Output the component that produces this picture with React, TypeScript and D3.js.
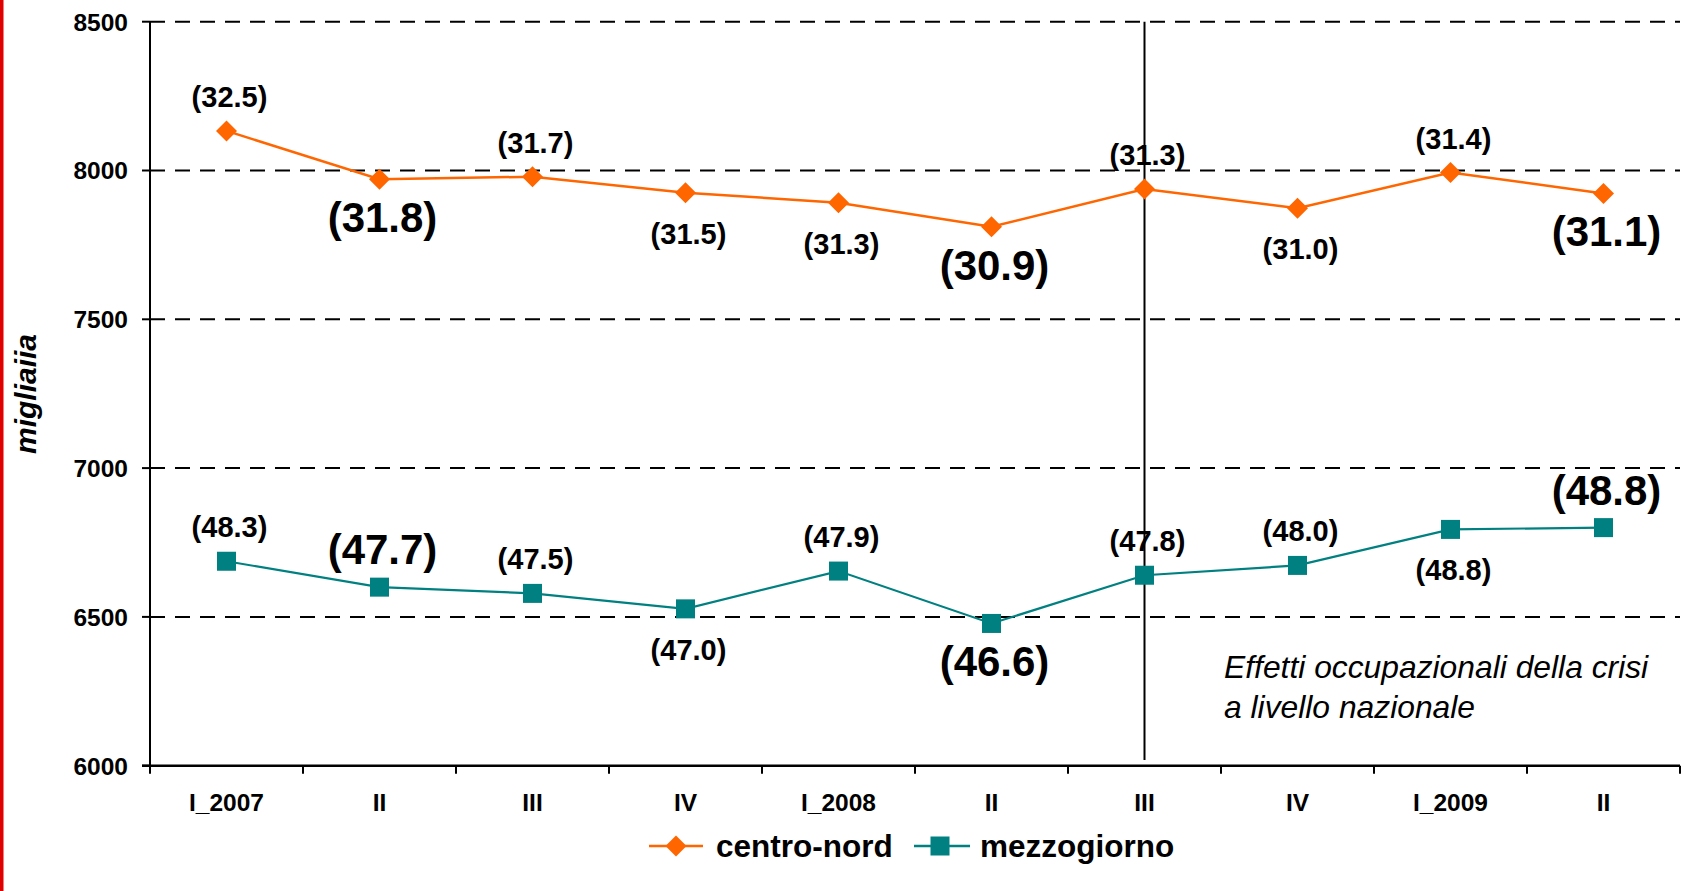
import * as d3 from 'd3'

const categories = ['I_2007', 'II', 'III', 'IV', 'I_2008', 'II ', 'III ', 'IV ', 'I_2009', 'II  ']
const centroNord = [8133, 7971, 7979, 7925, 7892, 7811, 7938, 7873, 7993, 7923]
const mezzogiorno = [6687, 6600, 6579, 6527, 6654, 6478, 6640, 6673, 6794, 6800]
const centroNordLabels = ['(32.5)', '(31.8)', '(31.7)', '(31.5)', '(31.3)', '(30.9)', '(31.3)', '(31.0)', '(31.4)', '(31.1)']
const mezzogiornoLabels = ['(48.3)', '(47.7)', '(47.5)', '(47.0)', '(47.9)', '(46.6)', '(47.8)', '(48.0)', '(48.8)', '(48.8)']
// label placement: 'a' = above, 'b' = below; upper case = large label
const centroNordPlace = ['a', 'B', 'a', 'b', 'b', 'B', 'a', 'b', 'a', 'B']
const mezzogiornoPlace = ['a', 'A', 'a', 'b', 'a', 'B', 'a', 'a', 'b', 'A']
const yTicks = [6000, 6500, 7000, 7500, 8000, 8500]
const gridTicks = [6500, 7000, 7500, 8000, 8500]
const crisisIndex = 6

const W = 1684
const H = 891
const FONT = '"Liberation Sans", Arial, Helvetica, sans-serif'
const ORANGE = '#ff6600'
const TEAL = '#008080'

const App = () => {
  const x = d3.scaleBand<number>()
    .domain(d3.range(categories.length))
    .range([150, 1680])
  const y = d3.scaleLinear().domain([6000, 8500]).range([765.7, 21.7])
  const cx = (i: number) => x(i)! + x.bandwidth() / 2

  const line = d3.line<number>()
    .x((_, i) => cx(i))
    .y(d => y(d))

  const labelY = (v: number, p: string) => {
    if (p === 'a') return y(v) - 24
    if (p === 'b') return y(v) + 51
    if (p === 'A') return y(v) - 23
    return y(v) + 53
  }

  const diamond = (px: number, py: number, r: number) =>
    `M${px},${py - r}L${px + r},${py}L${px},${py + r}L${px - r},${py}Z`

  const renderLabels = (vals: number[], labels: string[], place: string[]) =>
    vals.map((v, i) => (
      <text
        key={i}
        x={cx(i) + 3}
        y={labelY(v, place[i])}
        textAnchor="middle"
        fontWeight="bold"
        fontSize={place[i] === place[i].toUpperCase() ? 42 : 29}
        fill="#000"
      >
        {labels[i]}
      </text>
    ))

  return (
    <div style={{ position: 'absolute', left: 0, top: 0, background: '#fff' }}>
      <svg width={W} height={H} fontFamily={FONT} style={{ display: 'block' }}>
        <rect x={0} y={0} width={W} height={H} fill="#fff" />
        <rect x={0} y={0} width={3.5} height={H} fill="#e00000" />

        {/* dashed gridlines */}
        {gridTicks.map(t => (
          <line key={t} x1={150} x2={1680} y1={y(t)} y2={y(t)}
            stroke="#000" strokeWidth={2} strokeDasharray="15,10" />
        ))}

        {/* y axis */}
        <line x1={150} x2={150} y1={y(8500)} y2={y(6000)} stroke="#000" strokeWidth={2} />
        {yTicks.map(t => (
          <g key={t}>
            <line x1={142} x2={150} y1={y(t)} y2={y(t)} stroke="#000" strokeWidth={2} />
            <text x={128} y={y(t)} dy="0.36em" textAnchor="end" fontWeight="bold" fontSize={24.5}>{t}</text>
          </g>
        ))}
        <text transform={`translate(36,394) rotate(-90)`} textAnchor="middle"
          fontWeight="bold" fontStyle="italic" fontSize={30}>migliaiia</text>

        {/* x axis */}
        <line x1={142} x2={1680} y1={y(6000)} y2={y(6000)} stroke="#000" strokeWidth={2.5} />
        {d3.range(categories.length + 1).map(i => {
          const tx = i < categories.length ? x(i)! : x(categories.length - 1)! + x.bandwidth()
          return <line key={i} x1={tx} x2={tx} y1={y(6000)} y2={y(6000) + 8} stroke="#000" strokeWidth={2} />
        })}
        {categories.map((c, i) => (
          <text key={i} x={cx(i)} y={811} textAnchor="middle" fontWeight="bold" fontSize={24.5}>{c.trim()}</text>
        ))}

        {/* crisis divider */}
        <line x1={cx(crisisIndex)} x2={cx(crisisIndex)} y1={y(8500)} y2={760} stroke="#000" strokeWidth={2} />
        <text x={1224} y={678} fontStyle="italic" fontSize={31.8}>Effetti occupazionali della crisi</text>
        <text x={1224} y={718} fontStyle="italic" fontSize={31.8}>a livello nazionale</text>

        {/* series */}
        <path d={line(centroNord)!} fill="none" stroke={ORANGE} strokeWidth={2.5} />
        <path d={line(mezzogiorno)!} fill="none" stroke={TEAL} strokeWidth={2.2} />
        {centroNord.map((v, i) => (
          <path key={i} d={diamond(cx(i), y(v), 10.5)} fill={ORANGE} />
        ))}
        {mezzogiorno.map((v, i) => (
          <rect key={i} x={cx(i) - 9.5} y={y(v) - 9.5} width={19} height={19} fill={TEAL} />
        ))}

        {renderLabels(centroNord, centroNordLabels, centroNordPlace)}
        {renderLabels(mezzogiorno, mezzogiornoLabels, mezzogiornoPlace)}

        {/* legend */}
        <g>
          <line x1={649} x2={703} y1={846} y2={846} stroke={ORANGE} strokeWidth={2.5} />
          <path d={diamond(676, 846, 10.5)} fill={ORANGE} />
          <text x={716} y={857} fontWeight="bold" fontSize={31.5}>centro-nord</text>
          <line x1={914} x2={970} y1={846} y2={846} stroke={TEAL} strokeWidth={2.5} />
          <rect x={930.5} y={836.5} width={19} height={19} fill={TEAL} />
          <text x={980} y={857} fontWeight="bold" fontSize={31.5}>mezzogiorno</text>
        </g>
      </svg>
    </div>
  )
}

export default App
